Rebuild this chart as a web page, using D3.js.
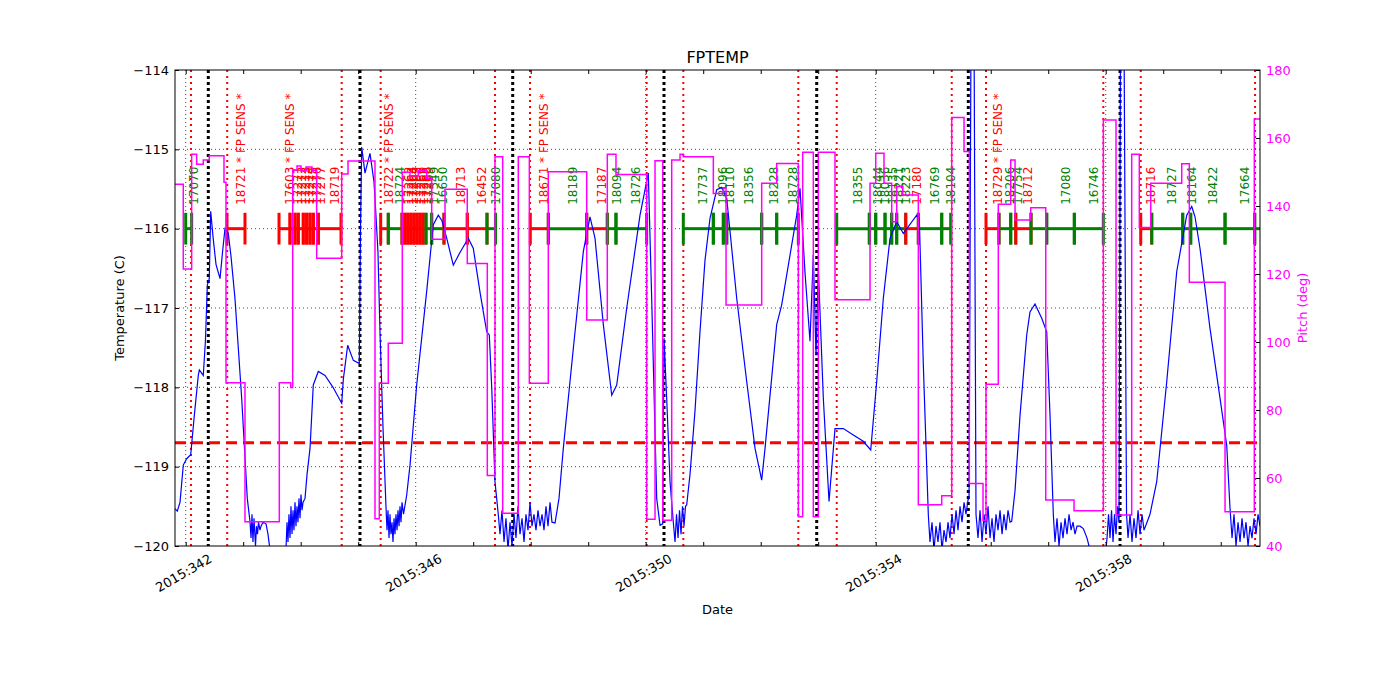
<!DOCTYPE html>
<meta charset="utf-8">
<title>FPTEMP</title>
<style>
body { margin: 0; background: #fff; }
text { font-family: "DejaVu Sans", sans-serif; }
.axis text { font-size: 13px; }
.axis path { display: none; }
.axis line { stroke: #000; }
.grid line { stroke: #000; stroke-width: 0.7; stroke-dasharray: 1,3; }
.obslabel { font-size: 12px; }
</style>
<svg class="chart" width="1400" height="700"></svg>
<script src="https://d3js.org/d3.v7.min.js"></script>
<script>

// fractional day of year 2015 ; temperature in C
var fptemp = [
  [341.814,-119.53],[341.854,-119.56],[341.901,-119.45],[341.958,-118.98],[342.017,-118.90],[342.087,-118.85],[342.144,-118.40],[342.219,-117.85],[342.237,-117.78],[342.306,-117.85],[342.344,-117.40],[342.376,-116.71],[342.410,-116.63],[342.435,-115.78],[342.475,-116.10],[342.527,-116.45],[342.597,-116.63],[342.640,-116.30],[342.683,-116.00],[342.741,-116.06],[342.788,-116.35],[342.857,-116.88],[342.974,-118.14],[343.071,-119.40],[343.118,-119.69],
  [343.136,-119.90],[343.153,-119.60],[343.170,-119.95],[343.188,-119.65],[343.214,-120.00],[343.231,-119.75],[343.249,-119.85],[343.266,-119.70],[343.292,-119.80],[343.310,-119.75],[343.344,-119.70],[343.397,-119.72],[343.431,-119.85],[343.466,-120.05],[343.518,-120.30],[343.675,-120.30],[343.744,-120.05],
  [343.762,-119.70],[343.779,-119.95],[343.796,-119.60],[343.814,-119.90],[343.831,-119.50],[343.849,-119.85],[343.866,-119.55],[343.883,-119.80],[343.901,-119.45],[343.918,-119.75],[343.936,-119.50],[343.953,-119.70],[343.970,-119.40],[343.988,-119.65],[344.005,-119.35],[344.023,-119.55],[344.040,-119.45],
  [344.075,-119.40],[344.110,-119.10],[344.162,-118.77],[344.219,-117.97],[344.306,-117.80],[344.423,-117.85],[344.562,-118.00],[344.713,-118.20],[344.741,-117.90],[344.817,-117.47],[344.915,-117.66],[345.019,-117.70],[345.040,-116.00],[345.061,-114.97],[345.118,-115.30],[345.205,-115.05],[345.275,-115.41],[345.310,-115.85],[345.344,-116.30],[345.379,-117.30],[345.431,-118.50],[345.483,-119.50],
  [345.501,-119.80],[345.518,-119.55],[345.536,-119.90],[345.553,-119.60],[345.570,-119.85],[345.588,-119.70],[345.605,-119.95],[345.623,-119.65],[345.640,-119.85],[345.657,-119.60],[345.675,-119.80],[345.692,-119.55],[345.710,-119.75],[345.727,-119.50],[345.744,-119.70],[345.762,-119.45],[345.788,-119.60],
  [345.843,-119.36],[345.901,-118.98],[346.017,-117.97],[346.191,-116.79],[346.306,-115.95],[346.393,-115.83],[346.457,-115.90],[346.539,-116.12],[346.654,-116.46],[346.770,-116.30],[346.915,-116.12],[347.002,-116.25],[347.118,-116.80],[347.235,-117.30],[347.280,-117.34],[347.322,-118.00],[347.379,-119.19],[347.437,-119.61],
  [347.466,-119.85],[347.501,-119.55],[347.536,-119.95],[347.570,-119.65],[347.605,-120.05],[347.640,-119.70],[347.675,-120.00],[347.710,-119.60],[347.744,-119.90],[347.779,-119.50],[347.814,-119.85],[347.849,-119.65],[347.884,-119.95],[347.918,-119.60],[347.953,-119.80],[347.988,-119.45],[348.023,-119.75],[348.057,-119.60],[348.092,-119.80],[348.127,-119.55],[348.162,-119.75],[348.197,-119.60],[348.231,-119.80],[348.266,-119.50],[348.301,-119.75],[348.336,-119.45],[348.370,-119.70],[348.423,-119.71],
  [348.492,-119.40],[348.567,-118.77],[348.741,-117.51],[348.915,-116.29],[349.031,-115.85],[349.118,-116.12],[349.263,-117.21],[349.409,-118.10],[349.496,-117.97],[349.670,-117.00],[349.901,-115.83],[350.045,-115.30],[350.104,-116.88],[350.191,-119.40],[350.249,-119.74],[350.296,-119.72],[350.318,-117.38],[350.365,-118.14],[350.423,-119.19],[350.480,-119.70],
  [350.510,-119.95],[350.536,-119.60],[350.562,-119.90],[350.588,-119.55],[350.614,-119.85],[350.640,-119.50],[350.666,-119.75],[350.692,-119.50],
  [350.713,-119.48],[350.770,-119.10],[350.857,-118.30],[350.944,-117.30],[351.031,-116.40],[351.118,-115.87],[351.235,-115.51],[351.322,-115.48],[351.409,-115.62],[351.583,-116.88],[351.757,-117.93],[351.901,-118.77],[352.017,-119.17],[352.075,-118.77],[352.278,-117.21],[352.365,-116.96],[352.626,-115.83],[352.683,-115.49],[352.770,-116.55],[352.857,-117.42],[352.915,-116.33],[352.962,-117.60],[353.002,-116.50],[353.089,-118.14],[353.188,-119.44],[353.292,-118.52],[353.437,-118.52],[353.610,-118.60],[353.784,-118.68],[353.913,-118.79],[354.017,-117.93],[354.132,-116.88],[354.249,-116.12],[354.365,-115.91],[354.480,-116.06],[354.713,-115.83],[354.758,-115.87],[354.828,-117.72],[354.915,-119.61],
  [354.944,-119.95],[354.979,-119.70],[355.014,-120.05],[355.049,-119.75],[355.083,-119.95],[355.118,-119.70],[355.153,-120.05],[355.188,-119.80],[355.223,-119.95],[355.257,-119.70],[355.292,-119.90],[355.327,-119.60],[355.362,-119.85],[355.397,-119.55],[355.431,-119.80],[355.466,-119.50],[355.501,-119.70],[355.536,-119.45],[355.570,-119.60],[355.605,-119.42],
  [355.623,-119.40],[355.657,-113.50],[355.710,-113.50],[355.744,-119.60],
  [355.779,-119.90],[355.814,-119.55],[355.849,-119.95],[355.884,-119.60],[355.918,-119.85],[355.953,-119.50],[355.988,-119.90],[356.023,-119.65],[356.057,-119.95],[356.092,-119.60],[356.127,-119.80],[356.162,-119.55],[356.197,-119.85],[356.231,-119.60],[356.266,-119.80],[356.301,-119.55],[356.336,-119.70],[356.365,-119.69],
  [356.423,-119.30],[356.510,-118.35],[356.626,-117.34],[356.683,-117.05],[356.770,-116.95],[356.887,-117.13],[356.974,-117.30],[357.031,-118.35],[357.089,-119.61],
  [357.118,-119.95],[357.153,-119.65],[357.188,-120.00],[357.223,-119.70],[357.257,-119.90],[357.292,-119.65],[357.327,-119.85],[357.362,-119.60],[357.397,-119.80],[357.431,-119.70],[357.466,-119.85],[357.501,-119.75],
  [357.553,-119.75],[357.610,-119.78],[357.675,-119.90],[357.727,-120.05],[357.797,-120.30],[357.971,-120.30],[358.023,-119.90],
  [358.049,-119.60],[358.075,-119.90],[358.101,-119.55],[358.127,-119.95],[358.153,-119.60],[358.179,-119.85],[358.205,-119.50],[358.231,-119.70],
  [358.257,-113.50],[358.318,-113.50],[358.362,-119.60],
  [358.388,-119.90],[358.423,-119.60],[358.457,-119.95],[358.492,-119.65],[358.527,-119.90],[358.562,-119.55],[358.597,-119.85],[358.631,-119.60],[358.666,-119.80],[358.713,-119.71],
  [358.770,-119.60],[358.887,-119.19],[359.061,-117.93],[359.235,-116.54],[359.409,-115.83],[359.496,-115.72],[359.553,-115.85],[359.640,-116.25],[359.814,-117.26],[359.988,-118.14],[360.104,-118.73],[360.162,-119.53],
  [360.197,-119.90],[360.231,-119.60],[360.266,-120.00],[360.301,-119.70],[360.336,-119.95],[360.370,-119.65],[360.405,-119.90],[360.440,-119.70],[360.475,-120.00],[360.510,-119.75],[360.544,-119.90],[360.579,-119.65],[360.614,-119.85],[360.649,-119.60],[360.683,-119.75]
];

// pitch (deg), held until the next entry
var pitch = [
  [341.814,146.4],[341.958,121.5],[342.104,155.2],[342.191,152.3],[342.306,153.5],[342.410,154.8],[342.666,147.0],[342.701,88.0],[343.031,47.1],[343.628,88.0],[343.826,86.6],[343.861,150.6],[343.936,151.8],[344.005,150.3],[344.092,151.5],[344.197,150.5],[344.278,124.6],[344.713,149.4],[344.823,153.2],[345.292,48.0],[345.367,87.9],[345.523,99.6],[345.767,149.9],[345.901,148.9],[346.045,150.4],[346.191,148.1],[346.278,130.2],[346.510,144.9],[346.897,123.1],[347.245,60.7],[347.379,154.5],[347.513,49.6],[347.784,154.5],[347.976,87.9],[348.306,150.1],[348.974,106.5],[349.332,155.2],[349.483,149.3],[350.017,47.9],[350.162,153.3],[350.296,47.6],[350.452,153.5],[350.597,155.2],[350.654,154.5],[351.176,143.7],[351.350,145.2],[351.397,110.9],[352.017,146.7],[352.278,152.5],[352.654,48.6],[352.730,155.8],[352.915,48.6],[353.002,155.8],[353.292,112.4],[353.901,146.7],[354.000,155.5],[354.144,146.7],[354.278,135.4],[354.365,145.7],[354.470,143.2],[354.741,52.1],[355.148,54.8],[355.322,166.0],[355.536,156.0],[355.628,58.4],[355.866,47.6],[355.918,87.6],[356.132,140.5],[356.348,153.5],[356.423,135.9],[356.696,139.5],[356.957,53.5],[357.449,50.4],[357.958,165.3],[358.179,49.1],[358.452,155.2],[358.584,133.7],[358.783,146.7],[359.322,152.4],[359.454,117.6],[360.075,50.1],[360.584,165.6],[360.683,165.6]
];

var obsStart = [342.000,342.718,343.623,343.814,343.901,343.958,344.045,344.104,344.162,344.219,344.306,345.391,345.523,345.762,345.814,345.866,345.918,345.970,346.023,346.075,346.127,346.179,346.278,346.492,346.897,347.240,347.993,348.306,348.974,349.332,349.483,350.654,351.176,351.350,351.409,352.017,352.278,353.322,353.889,354.000,354.162,354.278,354.365,354.522,354.741,355.148,355.918,356.144,356.348,356.435,356.701,356.974,357.454,358.609,358.800,359.339,359.478,360.075,360.591];
var obsStop = [342.104,343.031,343.814,343.901,343.958,344.045,344.104,344.162,344.219,344.306,344.701,345.523,345.762,345.814,345.866,345.918,345.970,346.023,346.075,346.127,346.179,346.278,346.492,346.897,347.240,347.388,348.306,348.974,349.332,349.483,350.017,351.176,351.350,351.409,352.017,352.278,352.654,353.889,354.000,354.162,354.278,354.365,354.522,354.741,355.148,355.304,356.144,356.348,356.435,356.701,356.974,357.454,357.958,358.800,359.339,359.478,360.075,360.591,360.718];
var obsLabel = ["17070","18721 * FP SENS *","17603 * FP SENS *","17271","17272","17273","17274","17275","17276","17277","18719",
  "18722 * FP SENS *","18724","17262","17263","17264","17265","17266","17267","17268","17269","17549","16650","18713","16452","17080",
  "18671 * FP SENS *","18189","17187","18094","18726","17737","18096","18110","18356","18228","18728",
  "18355","18044","18036","18135","18221","18223","17180","16769","18104",
  "18729 * FP SENS *","18206","17754","18712","","17080","16746","18716","18727","18164","18422","17664",""];
// 1 = observation flagged hot (red), 0 = ok (green)
var obsHot = [0,1,1,1,1,1,1,1,1,1,1,1,0,1,1,1,1,1,1,1,1,0,0,1,1,0,1,0,1,0,0,
  0,0,0,0,0,0,0,0,0,0,0,0,1,0,0,1,0,0,1,0,0,0,1,0,0,0,0,0];

var radZone = [342.092,342.722,344.713,345.391,347.379,347.988,350.017,350.654,352.654,353.322,355.322,355.918,357.958,358.609,360.597];
var perigee = [342.393,345.031,347.687,350.318,352.974,355.610,358.249];
var planLimit = -118.7;

var dayTicks = d3.range(342, 361);
var tempTicks = [-120,-119,-118,-117,-116,-115,-114];
var pitchTicks = [40,60,80,100,120,140,160,180];

var margin = {top: 70, right: 140, bottom: 154, left: 175},
    width = 1400 - margin.left - margin.right,
    height = 700 - margin.top - margin.bottom;

var x = d3.scaleLinear().domain([341.814, 360.683]).range([0, width]);
var yT = d3.scaleLinear().domain([-120, -114]).range([height, 0]);
var yP = d3.scaleLinear().domain([40, 180]).range([height, 0]);

var svg = d3.select(".chart");
var chart = svg.append("g")
    .attr("transform", "translate(" + margin.left + "," + margin.top + ")");

chart.append("clipPath").attr("id", "clip")
  .append("rect").attr("width", width).attr("height", height);

// grid
chart.append("g").attr("class", "grid")
  .selectAll("line").data(tempTicks.slice(1, -1)).enter().append("line")
    .attr("x1", 0).attr("x2", width)
    .attr("y1", function(d) { return yT(d); }).attr("y2", function(d) { return yT(d); });
chart.append("g").attr("class", "grid")
  .selectAll("line").data(dayTicks.filter(function(d) { return d % 4 === 2; })).enter().append("line")
    .attr("y1", 0).attr("y2", height)
    .attr("x1", function(d) { return x(d); }).attr("x2", function(d) { return x(d); });

// radiation zone and perigee markers
chart.append("g").selectAll("line").data(radZone).enter().append("line")
    .attr("x1", function(d) { return x(d); }).attr("x2", function(d) { return x(d); })
    .attr("y1", 0).attr("y2", height)
    .attr("stroke", "#ff0000").attr("stroke-width", 2).attr("stroke-dasharray", "2,4");
chart.append("g").selectAll("line").data(perigee).enter().append("line")
    .attr("x1", function(d) { return x(d); }).attr("x2", function(d) { return x(d); })
    .attr("y1", 0).attr("y2", height)
    .attr("stroke", "#000").attr("stroke-width", 3).attr("stroke-dasharray", "3,3");

// planning limit
chart.append("line")
    .attr("x1", 0).attr("x2", width)
    .attr("y1", yT(planLimit)).attr("y2", yT(planLimit))
    .attr("stroke", "#ff0000").attr("stroke-width", 3).attr("stroke-dasharray", "11,6");

// observation bars
var obs = obsStart.map(function(s, i) {
  return {start: s, stop: obsStop[i], label: obsLabel[i], color: obsHot[i] ? "#ff0000" : "#008000"};
});
var obsG = chart.append("g").attr("clip-path", "url(#clip)");
obsG.selectAll(".bar").data(obs).enter().append("line")
    .attr("x1", function(d) { return x(d.start); }).attr("x2", function(d) { return x(d.stop); })
    .attr("y1", yT(-116)).attr("y2", yT(-116))
    .attr("stroke", function(d) { return d.color; }).attr("stroke-width", 3);
obs.forEach(function(d) {
  [d.start, d.stop].forEach(function(t) {
    obsG.append("line")
        .attr("x1", x(t)).attr("x2", x(t))
        .attr("y1", yT(-115.8)).attr("y2", yT(-116.2))
        .attr("stroke", d.color).attr("stroke-width", 3);
  });
});
chart.append("g").selectAll("text").data(obs.filter(function(d) { return d.label; })).enter().append("text")
    .attr("class", "obslabel")
    .attr("transform", function(d) {
      return "translate(" + (x((d.start + d.stop) / 2) + 9) + "," + yT(-115.7) + ") rotate(-90)";
    })
    .attr("fill", function(d) { return d.color; })
    .text(function(d) { return d.label; });

// temperature
chart.append("path")
    .datum(fptemp)
    .attr("clip-path", "url(#clip)")
    .attr("fill", "none").attr("stroke", "#0000ff").attr("stroke-width", 1.2)
    .attr("d", d3.line().x(function(d) { return x(d[0]); }).y(function(d) { return yT(d[1]); }));

// pitch
chart.append("path")
    .datum(pitch)
    .attr("clip-path", "url(#clip)")
    .attr("fill", "none").attr("stroke", "#ff00ff").attr("stroke-width", 1.5)
    .attr("d", d3.line().curve(d3.curveStepAfter).x(function(d) { return x(d[0]); }).y(function(d) { return yP(d[1]); }));

// axes
chart.append("g").attr("class", "axis")
    .attr("transform", "translate(0," + height + ")")
    .call(d3.axisBottom(x).tickValues(dayTicks).tickSizeInner(-4).tickSizeOuter(0).tickFormat(""));
chart.append("g").attr("class", "axis")
    .call(d3.axisTop(x).tickValues(dayTicks).tickSizeInner(-4).tickSizeOuter(0).tickFormat(""));
chart.append("g").attr("class", "axis")
    .call(d3.axisLeft(yT).tickValues(tempTicks).tickSizeInner(-4).tickSizeOuter(0).tickPadding(6).tickFormat(d3.format("d")));
var right = chart.append("g").attr("class", "axis")
    .attr("transform", "translate(" + width + ",0)")
    .call(d3.axisRight(yP).tickValues(pitchTicks).tickSizeInner(-4).tickSizeOuter(0).tickPadding(6));
right.selectAll("text").attr("fill", "#ff00ff");

chart.append("g").selectAll("text")
    .data(dayTicks.filter(function(d) { return d % 4 === 2; }))
  .enter().append("text")
    .attr("transform", function(d) { return "translate(" + (x(d) - 2) + "," + (height + 27) + ") rotate(-30)"; })
    .attr("text-anchor", "middle").attr("dy", "0.35em")
    .style("font-size", "13px")
    .text(function(d) { return "2015:" + d; });

chart.append("rect")
    .attr("width", width).attr("height", height)
    .attr("fill", "none").attr("stroke", "#000").attr("stroke-width", 1);

// labels
chart.append("text")
    .attr("x", width / 2).attr("y", -7)
    .attr("text-anchor", "middle").style("font-size", "16px")
    .text("FPTEMP");
chart.append("text")
    .attr("x", width / 2).attr("y", height + 68)
    .attr("text-anchor", "middle").style("font-size", "13px")
    .text("Date");
chart.append("text")
    .attr("transform", "translate(" + (-51) + "," + (height / 2) + ") rotate(-90)")
    .attr("text-anchor", "middle").style("font-size", "13px")
    .text("Temperature (C)");
chart.append("text")
    .attr("transform", "translate(" + (width + 47) + "," + (height / 2) + ") rotate(-90)")
    .attr("text-anchor", "middle").style("font-size", "13px").attr("fill", "#ff00ff")
    .text("Pitch (deg)");

</script>
